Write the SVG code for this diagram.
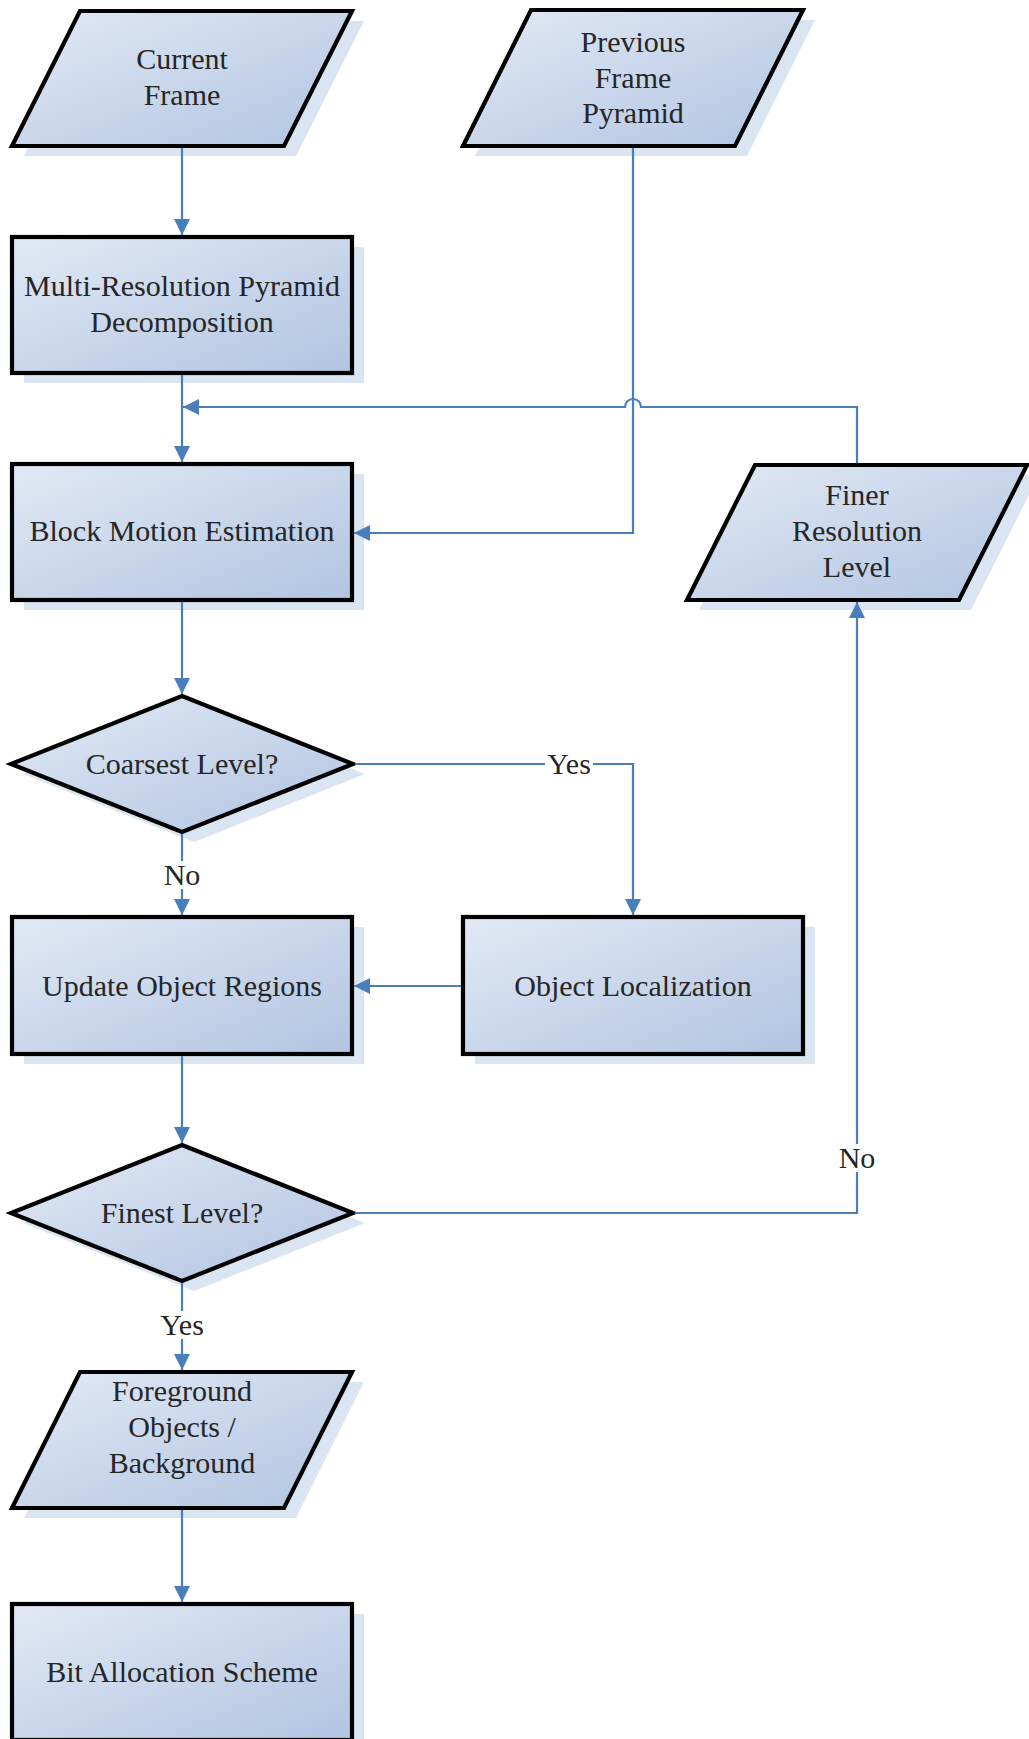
<svg xmlns="http://www.w3.org/2000/svg" width="1029" height="1739" viewBox="0 0 1029 1739">
<defs>
<linearGradient id="g" x1="0" y1="0" x2="1" y2="1">
<stop offset="0" stop-color="#e2e9f5"/>
<stop offset="1" stop-color="#b1c4e1"/>
</linearGradient>
<marker id="ah" markerUnits="userSpaceOnUse" markerWidth="16" markerHeight="16" viewBox="0 0 16 16" refX="16" refY="8" orient="auto">
<path d="M0,0 L16,8 L0,16 Z" fill="#4a7ebb"/>
</marker>
</defs>
<style>
.shape{fill:url(#g);stroke:#000;stroke-width:4.2;stroke-linejoin:miter}
.shadow{fill:#dbe4f1}
.t{font-family:"Liberation Serif","Times New Roman",serif;font-size:30px;fill:#262626;text-anchor:middle}
.c{fill:none;stroke:#4a7ebb;stroke-width:2.2}
.a{marker-end:url(#ah)}
.lb{fill:#fff}
</style>
<rect width="1029" height="1739" fill="#fff"/>

<g id="current-frame">
<polygon class="shadow" points="92,21 364,21 296,156 24,156"/>
<polygon class="shape" points="80,11 352,11 284,146 12,146"/>
<text class="t" x="182" y="69">Current</text>
<text class="t" x="182" y="105">Frame</text>
</g>

<g id="previous-frame-pyramid">
<polygon class="shadow" points="543,20 815,20 747,156 475,156"/>
<polygon class="shape" points="531,10 803,10 735,146 463,146"/>
<text class="t" x="633" y="52">Previous</text>
<text class="t" x="633" y="88">Frame</text>
<text class="t" x="633" y="123">Pyramid</text>
</g>

<g id="multi-resolution">
<rect class="shadow" x="24" y="247" width="340" height="136"/>
<rect class="shape" x="12" y="237" width="340" height="136"/>
<text class="t" x="182" y="296">Multi-Resolution Pyramid</text>
<text class="t" x="182" y="332">Decomposition</text>
</g>

<g id="block-motion-estimation">
<rect class="shadow" x="24" y="474" width="340" height="136"/>
<rect class="shape" x="12" y="464" width="340" height="136"/>
<text class="t" x="182" y="541">Block Motion Estimation</text>
</g>

<g id="finer-resolution-level">
<polygon class="shadow" points="767,475 1039,475 971,610 699,610"/>
<polygon class="shape" points="755,465 1027,465 959,600 687,600"/>
<text class="t" x="857" y="505">Finer</text>
<text class="t" x="857" y="541">Resolution</text>
<text class="t" x="857" y="577">Level</text>
</g>

<g id="coarsest-level">
<polygon class="shadow" points="194,706 365,774 194,842 23,774"/>
<polygon class="shape" points="182,696 353,764 182,832 11,764"/>
<text class="t" x="182" y="774">Coarsest Level?</text>
</g>

<g id="update-object-regions">
<rect class="shadow" x="24" y="927" width="340" height="137"/>
<rect class="shape" x="12" y="917" width="340" height="137"/>
<text class="t" x="182" y="996">Update Object Regions</text>
</g>

<g id="object-localization">
<rect class="shadow" x="475" y="927" width="340" height="137"/>
<rect class="shape" x="463" y="917" width="340" height="137"/>
<text class="t" x="633" y="996">Object Localization</text>
</g>

<g id="finest-level">
<polygon class="shadow" points="194,1155 365,1223 194,1291 23,1223"/>
<polygon class="shape" points="182,1145 353,1213 182,1281 11,1213"/>
<text class="t" x="182" y="1223">Finest Level?</text>
</g>

<g id="foreground-background">
<polygon class="shadow" points="92,1382 364,1382 296,1518 24,1518"/>
<polygon class="shape" points="80,1372 352,1372 284,1508 12,1508"/>
<text class="t" x="182" y="1401">Foreground</text>
<text class="t" x="182" y="1437">Objects /</text>
<text class="t" x="182" y="1473">Background</text>
</g>

<g id="bit-allocation-scheme">
<rect class="shadow" x="24" y="1614" width="340" height="136"/>
<rect class="shape" x="12" y="1604" width="340" height="136"/>
<text class="t" x="182" y="1682">Bit Allocation Scheme</text>
</g>

<g id="connectors">
<path class="c a" d="M182,148 V235"/>
<path class="c a" d="M182,375 V462"/>
<path class="c a" d="M633,148 V533 H354"/>
<path class="c a" d="M857,463 V407 H641 A8,8 0 0 0 625,407 H183"/>
<path class="c a" d="M182,602 V694"/>
<path class="c a" d="M355,764 H633 V915"/>
<path class="c a" d="M182,834 V915"/>
<path class="c a" d="M461,986 H354"/>
<path class="c a" d="M182,1056 V1143"/>
<path class="c a" d="M355,1213 H857 V602"/>
<path class="c a" d="M182,1283 V1370"/>
<path class="c a" d="M182,1510 V1602"/>
<rect class="lb" x="545" y="750" width="48" height="28"/>
<text class="t" x="569" y="774">Yes</text>
<rect class="lb" x="162" y="861" width="40" height="28"/>
<text class="t" x="182" y="885">No</text>
<rect class="lb" x="837" y="1144" width="40" height="28"/>
<text class="t" x="857" y="1168">No</text>
<rect class="lb" x="158" y="1311" width="48" height="28"/>
<text class="t" x="182" y="1335">Yes</text>
</g>
</svg>
